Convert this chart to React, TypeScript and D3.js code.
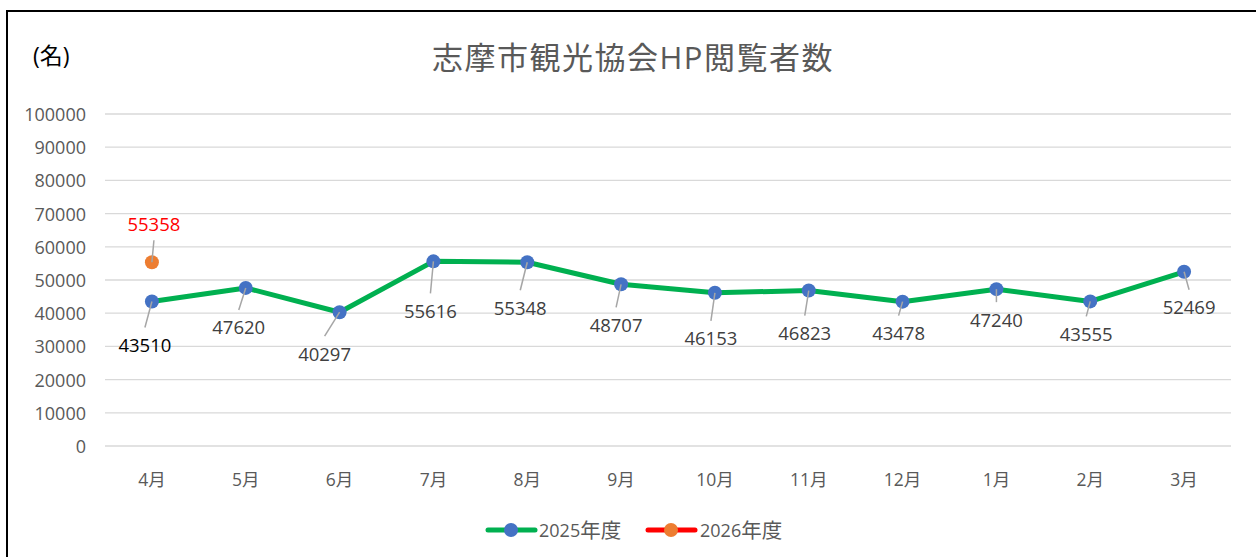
import React from "react";
import * as d3 from "d3";

const months = ["4月", "5月", "6月", "7月", "8月", "9月", "10月", "11月", "12月", "1月", "2月", "3月"];
const series2025 = [43510, 47620, 40297, 55616, 55348, 48707, 46153, 46823, 43478, 47240, 43555, 52469];
const series2026 = [55358];
const yTicks = [0, 10000, 20000, 30000, 40000, 50000, 60000, 70000, 80000, 90000, 100000];
const title = "志摩市観光協会HP閲覧者数";
const unitLabel = "(名)";
const legendYears = ["2025", "2026"];
const legendSuffix = "年度";

// label placement offsets (layout only)
const labelOffsets2025: [number, number][] = [
  [-7, 43], [-7, 39], [-15, 41], [-3, 49], [-7, 45], [-5, 40],
  [-4, 45], [-4, 42], [-4, 31], [0, 30], [-4, 32], [5, 35],
];
const labelOffsets2026: [number, number][] = [[2, -39]];

const FONT = "'Open Sans', 'Noto Sans CJK JP', sans-serif";

export default function App() {
  const W = 1256, H = 557;
  const left = 105, right = 1231, top = 114, bottom = 446;
  const x = d3.scaleBand<string>().domain(months).range([left, right]).padding(0);
  const y = d3.scaleLinear().domain([0, 100000]).range([bottom, top]);
  const cx = (i: number) => (x(months[i]) as number) + x.bandwidth() / 2;

  const line = d3.line<number>().x((_, i) => cx(i)).y((d) => y(d));

  const leader = (px: number, py: number, lx: number, ly: number) => {
    const dir = ly > py ? 1 : -1;
    return { x1: px, y1: py, x2: lx, y2: ly - dir * 17 };
  };

  return (
    <svg width={W} height={H} style={{ position: "absolute", left: 0, top: 0, background: "#fff" }} fontFamily={FONT}>
      <rect x={0} y={0} width={W} height={H} fill="#fff" />
      <rect x={7} y={11} width={1270} height={570} fill="none" stroke="#000" strokeWidth={2} />

      <text x={633} y={57} textAnchor="middle" dominantBaseline="central" fontSize={31} letterSpacing={1.5} fill="#595959">{title}</text>
      <text x={33} y={55} dominantBaseline="central" fontSize={23} fill="#000">{unitLabel}</text>

      {yTicks.map((t) => (
        <g key={t}>
          <line x1={left} x2={right} y1={y(t)} y2={y(t)} stroke="#d9d9d9" strokeWidth={1.3} />
          <text x={86} y={y(t)} textAnchor="end" dominantBaseline="central" fontSize={18} fill="#595959">{t}</text>
        </g>
      ))}

      {months.map((m, i) => (
        <text key={m} x={cx(i)} y={479} textAnchor="middle" dominantBaseline="central" fontSize={17.5} fill="#595959">{m}</text>
      ))}

      <path d={line(series2025) || ""} fill="none" stroke="#00b050" strokeWidth={5} strokeLinejoin="round" />
      {series2025.map((v, i) => (
        <circle key={i} cx={cx(i)} cy={y(v)} r={7} fill="#4472c4" />
      ))}
      {series2026.map((v, i) => (
        <circle key={"o" + i} cx={cx(i)} cy={y(v)} r={7} fill="#ed7d31" />
      ))}

      {series2025.map((v, i) => {
        const px = cx(i), py = y(v);
        const lx = px + labelOffsets2025[i][0], ly = py + labelOffsets2025[i][1];
        const l = leader(px, py, lx, ly);
        return (
          <g key={"l" + i}>
            <line {...l} stroke="#a6a6a6" strokeWidth={1.5} />
            <text x={lx} y={ly} textAnchor="middle" dominantBaseline="central" fontSize={18.5} fill={i === 0 ? "#000" : "#404040"}>{v}</text>
          </g>
        );
      })}
      {series2026.map((v, i) => {
        const px = cx(i), py = y(v);
        const lx = px + labelOffsets2026[i][0], ly = py + labelOffsets2026[i][1];
        const l = leader(px, py, lx, ly);
        return (
          <g key={"m" + i}>
            <line {...l} stroke="#a6a6a6" strokeWidth={1.5} />
            <text x={lx} y={ly} textAnchor="middle" dominantBaseline="central" fontSize={18.5} fill="#ff0000">{v}</text>
          </g>
        );
      })}

      {/* legend */}
      <g>
        <line x1={488} x2={535} y1={530} y2={530} stroke="#00b050" strokeWidth={5} strokeLinecap="round" />
        <circle cx={511} cy={530} r={7} fill="#4472c4" />
        <text x={539} y={530} dominantBaseline="central" fontSize={18} fill="#595959">
          {legendYears[0]}<tspan fontSize={20.5}>{legendSuffix}</tspan>
        </text>
        <line x1={648} x2={695} y1={530} y2={530} stroke="#ff0000" strokeWidth={5} strokeLinecap="round" />
        <circle cx={671} cy={530} r={7} fill="#ed7d31" />
        <text x={700} y={530} dominantBaseline="central" fontSize={18} fill="#595959">
          {legendYears[1]}<tspan fontSize={20.5}>{legendSuffix}</tspan>
        </text>
      </g>
    </svg>
  );
}
